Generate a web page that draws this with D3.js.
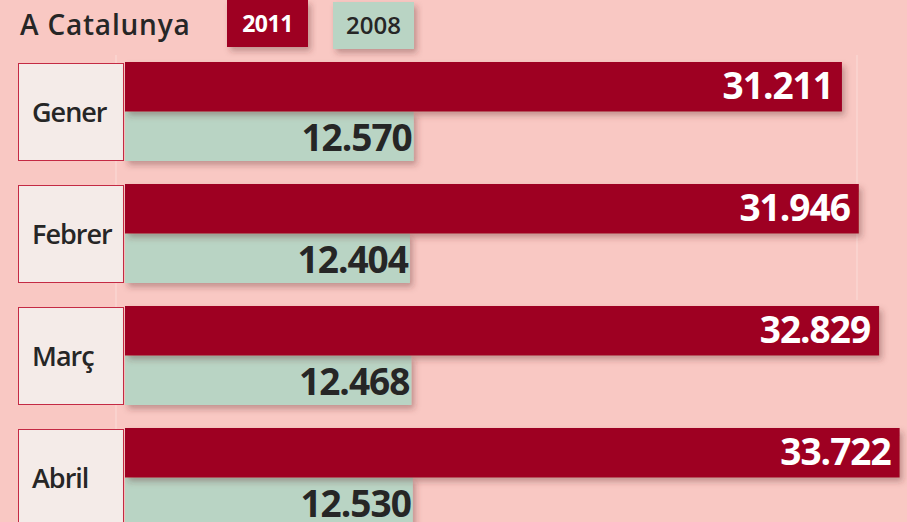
<!DOCTYPE html>
<html>
<head>
<meta charset="utf-8">
<script src="https://cdn.jsdelivr.net/npm/d3@7"></script>
<style>
  body { margin: 0; background: #f9c8c3; }
  svg { display: block; }
  .label { font-family: "Open Sans", sans-serif; font-weight: 600; fill: #262626; }
  .value { font-family: "Open Sans", sans-serif; font-weight: 700; }
</style>
</head>
<body>
<div id="chart"></div>
<script>
// months and the two series (persons)
const months = ["Gener", "Febrer", "Març", "Abril"];
const series = ["2011", "2008"];
const values2011 = [31211, 31946, 32829, 33722];
const values2008 = [12570, 12404, 12468, 12530];
const title = "A Catalunya";

const W = 907, H = 522;
const colors = {"2011": "#9e0320", "2008": "#b9d4c4"};
const textColors = {"2011": "#ffffff", "2008": "#262626"};

const svg = d3.select("#chart").append("svg")
    .attr("width", W).attr("height", H);

svg.append("rect").attr("width", W).attr("height", H).attr("fill", "#f9c8c3");

// soft shadow like the print graphic
const defs = svg.append("defs");
defs.append("filter").attr("id", "shadow")
    .attr("x", "-5%").attr("y", "-20%").attr("width", "115%").attr("height", "160%")
    .append("feDropShadow")
    .attr("dx", 3).attr("dy", 4).attr("stdDeviation", 3)
    .attr("flood-color", "#5a2a2a").attr("flood-opacity", 0.35);

// faint layout guides
svg.append("line").attr("x1", 116).attr("x2", 116).attr("y1", 55).attr("y2", H)
    .attr("stroke", "#fbdcd8").attr("stroke-width", 1);
svg.append("line").attr("x1", 857).attr("x2", 857).attr("y1", 55).attr("y2", 300)
    .attr("stroke", "#fbdcd8").attr("stroke-width", 1);

// scales
const x = d3.scaleLinear().domain([0, 34000]).range([125, 906]);
const y0 = d3.scaleBand().domain(months).range([62, 527]).paddingInner(23 / 122).paddingOuter(0);
const y1 = d3.scaleBand().domain(series).range([0, y0.bandwidth()]);

const data = months.map((m, i) => ({month: m, "2011": values2011[i], "2008": values2008[i]}));

// title + legend
svg.append("text").attr("class", "label")
    .attr("x", 20).attr("y", 35)
    .attr("font-size", 28).attr("letter-spacing", 0.8)
    .text(title);

const legendX = {"2011": 227, "2008": 333};
const legend = svg.selectAll(".legend").data(series).enter().append("g")
    .attr("class", "legend")
    .attr("transform", (d, i) => "translate(" + legendX[d] + "," + (i * 2) + ")");
legend.append("rect")
    .attr("width", 81).attr("height", 47)
    .attr("fill", d => colors[d])
    .attr("filter", "url(#shadow)");
legend.append("text")
    .attr("x", 40.5).attr("y", 32)
    .attr("text-anchor", "middle")
    .attr("font-family", "Open Sans, sans-serif")
    .attr("font-weight", d => d === "2011" ? 700 : 600)
    .attr("font-size", d => d === "2011" ? 23 : 24)
    .attr("letter-spacing", d => d === "2011" ? -0.5 : 0)
    .attr("fill", d => textColors[d])
    .text(d => d);

// groups
const groups = svg.selectAll(".month").data(data).enter().append("g")
    .attr("class", "month")
    .attr("transform", d => "translate(0," + y0(d.month) + ")");

groups.append("rect")
    .attr("x", 18.5).attr("y", 1.5)
    .attr("width", 105).attr("height", y0.bandwidth() - 2)
    .attr("fill", "#f4ebe8")
    .attr("stroke", "#c42a44").attr("stroke-width", 1);

groups.append("text").attr("class", "label")
    .attr("x", 32).attr("y", y0.bandwidth() / 2 + 10)
    .attr("font-size", 27).attr("letter-spacing", -1)
    .text(d => d.month);

const bars = groups.selectAll(".bar")
    .data(d => series.map(k => ({key: k, value: d[k]})).reverse())
    .enter().append("g").attr("class", "bar");

bars.append("rect")
    .attr("x", x(0))
    .attr("y", d => y1(d.key))
    .attr("width", d => x(d.value) - x(0))
    .attr("height", y1.bandwidth())
    .attr("fill", d => colors[d.key])
    .attr("filter", "url(#shadow)");

bars.append("text").attr("class", "value")
    .attr("x", d => x(d.value) - (d.key === "2011" ? 9 : 2))
    .attr("y", d => y1(d.key) + y1.bandwidth() / 2 + (d.key === "2011" ? 12 : 15))
    .attr("text-anchor", "end")
    .attr("font-size", 37)
    .attr("letter-spacing", -1)
    .attr("fill", d => textColors[d.key])
    .text(d => d3.format(",")(d.value).replace(",", "."));
</script>
</body>
</html>
